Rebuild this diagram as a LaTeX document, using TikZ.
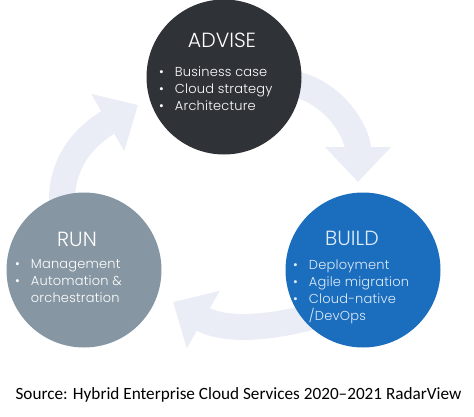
\documentclass[tikz,border=0pt]{standalone}
\usepackage{fontspec}
\setmainfont{Poppins}[UprightFont=* Light]
\newfontfamily\srcfont{Carlito}
\usetikzlibrary{arrows.meta}
\definecolor{advisedark}{RGB}{47,50,55}
\definecolor{buildblue}{RGB}{27,110,190}
\definecolor{rungray}{RGB}{134,150,162}
\definecolor{ringpale}{RGB}{234,237,246}
\definecolor{buildtext}{RGB}{224,236,248}

\begin{document}
\begin{tikzpicture}[x=1pt, y=1pt,
    stage/.style={circle, minimum size=155pt, inner sep=0pt},
    ttl/.style={font=\fontsize{20.5}{24}\selectfont, text=white},
    items/.style={font=\fontsize{13}{16.7}\selectfont\addfontfeature{LetterSpace=1.5}, text=white, anchor=north west, inner sep=0pt, align=left},
    cyc/.style={ringpale, line width=26pt, -{Triangle[width=64pt, length=35pt]}}]
  \useasboundingbox (0,0) rectangle (474,416);
  \coordinate (a1s) at (290,333);
  \coordinate (a1e) at (358,234);
  \coordinate (a2s) at (315,100);
  \coordinate (a2e) at (173,114);
  \coordinate (a3s) at (62,216);
  \coordinate (a3e) at (138,311);
  \draw[cyc] (a1s) to[out=-10, in=90] (a1e);
  \draw[cyc] (a2s) to[out=195, in=-30] (a2e);
  \draw[cyc] (a3s) to[out=90, in=210] (a3e);

  \node[stage, fill=advisedark] (advise) at (224,339) {};
  \node[stage, fill=buildblue] (build) at (363,146) {};
  \node[stage, fill=rungray] (run) at (84,146) {};

  \node[ttl] (advise-t) at ([shift={(-2,37)}]advise.center) {ADVISE};
  \node[items] (advise-l) at ([shift={(-65,12)}]advise.center) {%
    \begin{tabular}{@{}l@{\hspace{11pt}}l@{}}
      \textbullet & Business case\\
      \textbullet & Cloud strategy\\
      \textbullet & Architecture
    \end{tabular}};
  \node[ttl, text=buildtext] (build-t) at ([shift={(-11,32)}]build.center) {BUILD};
  \node[items, text=buildtext] (build-l) at ([shift={(-70,12)}]build.center) {%
    \begin{tabular}{@{}l@{\hspace{11pt}}l@{}}
      \textbullet & Deployment\\
      \textbullet & Agile migration\\
      \textbullet & Cloud-native\\
                  & /DevOps
    \end{tabular}};
  \node[ttl] (run-t) at ([shift={(-7,31)}]run.center) {RUN};
  \node[items] (run-l) at ([shift={(-69,13)}]run.center) {%
    \begin{tabular}{@{}l@{\hspace{11pt}}l@{}}
      \textbullet & Management\\
      \textbullet & Automation \&\\
                  & orchestration
    \end{tabular}};

  \node[anchor=base, font=\srcfont\fontsize{17.2}{20}\selectfont] (src) at (238.5,17)
    {Source: Hybrid Enterprise Cloud Services 2020–2021 RadarView};
\end{tikzpicture}
\end{document}
